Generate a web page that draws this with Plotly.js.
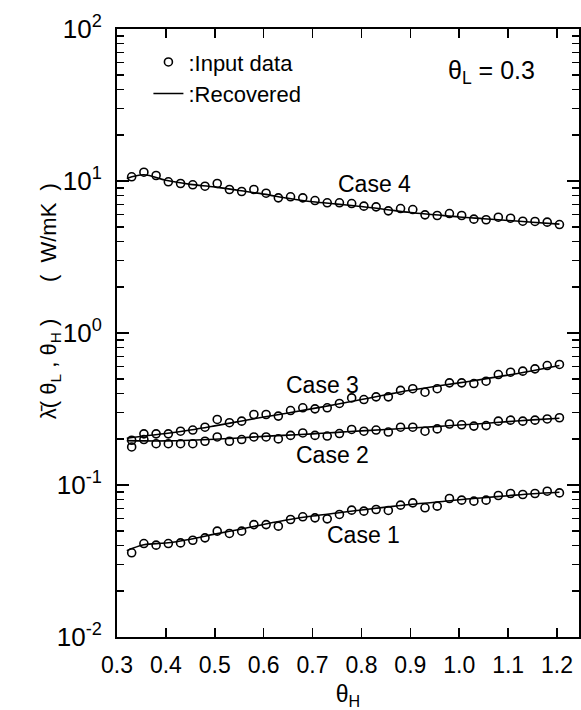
<!DOCTYPE html>
<html>
<head>
<meta charset="utf-8">
<script src="https://cdn.plot.ly/plotly-3.0.1.min.js"></script>
<style>html,body{margin:0;padding:0;background:#fff;}#chart{width:581px;height:710px;}</style>
</head>
<body>
<div id="chart"></div>
<script>
// theta_H positions of the input data points
var thetaH = [0.330,0.355,0.380,0.405,0.430,0.455,0.480,0.505,0.530,0.555,0.580,0.605,
              0.630,0.655,0.680,0.705,0.730,0.755,0.780,0.805,0.830,0.855,0.880,0.905,
              0.930,0.955,0.980,1.005,1.030,1.055,1.080,1.105,1.130,1.155,1.180,1.205];

// Input data (W/mK)
var case1Data = [0.0358,0.0412,0.0402,0.0412,0.0416,0.0433,0.0449,0.0497,0.0480,0.0497,0.0549,0.0549,
                 0.0536,0.0593,0.0618,0.0608,0.0599,0.0640,0.0683,0.0673,0.0690,0.0680,0.0737,0.0763,
                 0.0708,0.0726,0.0815,0.0795,0.0783,0.0795,0.0853,0.0879,0.0866,0.0879,0.0910,0.0887];
var case2Data = [0.178,0.199,0.187,0.187,0.187,0.187,0.194,0.207,0.194,0.199,0.207,0.207,
                 0.201,0.212,0.220,0.212,0.210,0.218,0.232,0.226,0.230,0.223,0.240,0.240,
                 0.226,0.234,0.252,0.249,0.244,0.246,0.263,0.267,0.263,0.267,0.272,0.277];
var case3Data = [0.197,0.217,0.217,0.217,0.226,0.230,0.240,0.270,0.257,0.263,0.291,0.291,
                 0.284,0.309,0.322,0.317,0.322,0.344,0.374,0.365,0.380,0.380,0.419,0.430,
                 0.408,0.430,0.470,0.470,0.465,0.482,0.533,0.552,0.561,0.581,0.611,0.621];
var case4Data = [10.66,11.43,10.87,9.88,9.63,9.44,9.24,9.63,8.79,8.53,8.79,8.31,
                 7.75,7.87,7.75,7.44,7.19,7.19,7.11,6.83,6.76,6.36,6.59,6.49,
                 5.99,5.93,6.11,5.93,5.61,5.56,5.78,5.69,5.44,5.42,5.36,5.17];

// Recovered curves
var recX = [0.320,0.355,0.40,0.45,0.50,0.55,0.60,0.65,0.70,0.75,0.80,0.85,0.90,0.95,1.00,1.05,1.10,1.15,1.205];
var case1Rec = [0.0370,0.0405,0.0415,0.0440,0.0475,0.0510,0.0550,0.0590,0.0625,0.0655,0.0685,0.0715,0.0745,0.0770,0.0800,0.0825,0.0850,0.0875,0.0895];
var case2Rec = [0.196,0.195,0.195,0.197,0.200,0.204,0.209,0.213,0.217,0.222,0.227,0.232,0.237,0.242,0.248,0.254,0.261,0.268,0.275];
var case3Rec = [0.203,0.210,0.218,0.230,0.245,0.262,0.280,0.298,0.318,0.340,0.365,0.392,0.420,0.445,0.470,0.497,0.528,0.565,0.612];
var case4Rec = [10.4,11.0,10.1,9.5,9.15,8.65,8.2,7.7,7.3,7.05,6.8,6.5,6.2,6.0,5.8,5.65,5.5,5.35,5.2];

var caseNames = ['Case 1','Case 2','Case 3','Case 4'];
var caseLabelX = [0.805,0.74,0.72,0.826];
var caseLabelY = [0.0472,0.158,0.458,9.5];

var yTickVals = [0.01,0.1,1,10,100];
var yTickText = ['10<sup>-2</sup>','10<sup>-1</sup>','10<sup>0</sup>','10<sup>1</sup>','10<sup>2</sup>'];
var xTickVals = [0.3,0.4,0.5,0.6,0.7,0.8,0.9,1.0,1.1,1.2];

var minorVals = [];
[0.01,0.1,1,10].forEach(function(d){ for (var k=2;k<=9;k++) minorVals.push(d*k); });

var FONT = '"Liberation Sans", Arial, sans-serif';

var dataSets = [case1Data, case2Data, case3Data, case4Data];
var recSets = [case1Rec, case2Rec, case3Rec, case4Rec];
var traces = [];
recSets.forEach(function(r, i){
  traces.push({x: recX, y: r, mode: 'lines', type: 'scatter', line: {color: '#000', width: 1.6, shape: 'spline'},
    name: ':Recovered', showlegend: i === 0, legendrank: 2, hoverinfo: 'skip'});
});
dataSets.forEach(function(d, i){
  traces.push({x: thetaH, y: d, mode: 'markers', type: 'scatter',
    marker: {symbol: 'circle-open', size: 8, color: '#000', line: {width: 1.6, color: '#000'}},
    name: ':Input data', showlegend: i === 0, legendrank: 1});
});

var annotations = caseNames.map(function(n, i){
  return {x: caseLabelX[i], y: Math.log10(caseLabelY[i]), xref: 'x', yref: 'y', text: n, showarrow: false,
          font: {family: FONT, size: 23, color: '#000'}};
});
annotations.push({x: 0.81, y: 0.93, xref: 'paper', yref: 'paper', text: '\u03b8<sub>L</sub> = 0.3', showarrow: false,
  xanchor: 'center', yanchor: 'middle', font: {family: FONT, size: 25, color: '#000'}});
annotations.push({x: -0.178, y: 0.552, xref: 'paper', yref: 'paper', textangle: -90, showarrow: false,
  text: '\u03bb\u0304( \u03b8<sub>L</sub> , \u03b8<sub>H</sub> )      (  W/mK  )', font: {family: FONT, size: 22, color: '#000'}});

var layout = {
  width: 581, height: 710,
  margin: {l: 117, r: 2, t: 29, b: 73},
  paper_bgcolor: '#fff', plot_bgcolor: '#fff',
  font: {family: FONT, color: '#000'},
  showlegend: true,
  legend: {x: 0.068, y: 0.98, xanchor: 'left', yanchor: 'top', bgcolor: 'rgba(0,0,0,0)',
           font: {family: FONT, size: 22, color: '#000'}, itemwidth: 30, tracegroupgap: 0, traceorder: 'normal'},
  xaxis: {range: [0.3, 1.245], tickmode: 'array', tickvals: xTickVals, tickformat: '.1f',
          ticks: 'inside', ticklen: 9, tickwidth: 1.5, tickcolor: '#000',
          showline: true, linewidth: 2, linecolor: '#000', mirror: 'ticks', showgrid: false, zeroline: false,
          tickfont: {family: FONT, size: 23, color: '#000'}, ticklabelstandoff: 6,
          title: {text: '\u03b8<sub>H</sub>', font: {family: FONT, size: 23, color: '#000'}, standoff: 12}},
  yaxis: {type: 'log', range: [-2, 2], tickmode: 'array', tickvals: yTickVals, ticktext: yTickText,
          ticks: 'inside', ticklen: 12, tickwidth: 1.5, tickcolor: '#000',
          minor: {tickmode: 'array', tickvals: minorVals, ticks: 'inside', ticklen: 7, tickwidth: 1.5, tickcolor: '#000', showgrid: false},
          showline: true, linewidth: 2, linecolor: '#000', mirror: 'ticks', showgrid: false, zeroline: false,
          tickfont: {family: FONT, size: 26, color: '#000'}, ticklabelstandoff: 8},
  annotations: annotations
};

Plotly.newPlot('chart', traces, layout, {displayModeBar: false, staticPlot: true});
</script>
</body>
</html>
